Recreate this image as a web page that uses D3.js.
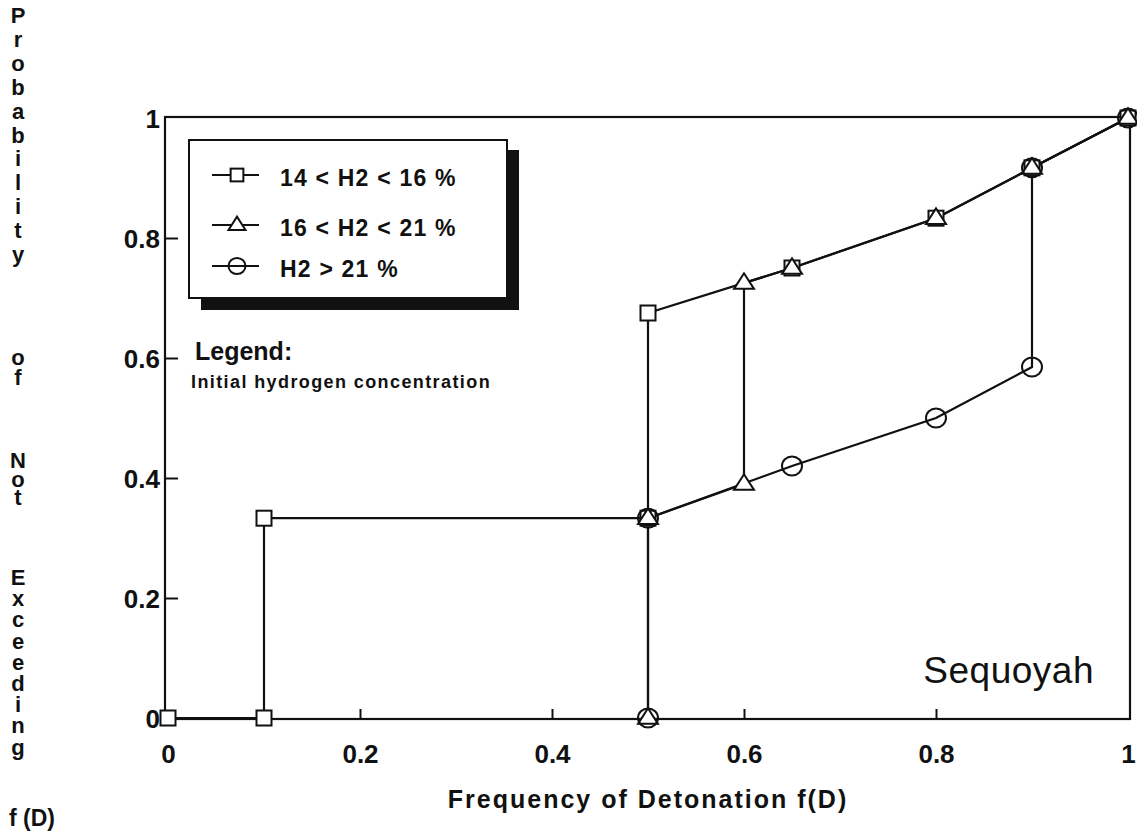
<!DOCTYPE html>
<html><head><meta charset="utf-8">
<script src="https://cdn.jsdelivr.net/npm/d3@7"></script>
<style>
html,body{margin:0;padding:0;background:#fff;}
svg{display:block;}
text{font-family:"Liberation Sans",Arial,sans-serif;fill:#111;}
.vert{writing-mode:vertical-rl;text-orientation:upright;}
</style></head>
<body>
<svg id="chart" width="1137" height="838"></svg>
<script>
// ---- data ----
const seriesNames = ["14 < H2 < 16 %", "16 < H2 < 21 %", "H2 > 21 %"];
const seriesSymbols = ["square", "triangle", "circle"];
const squareX = [0, 0.1, 0.1, 0.5, 0.5, 0.65, 0.8, 0.9, 1.0];
const squareY = [0, 0, 0.333, 0.333, 0.675, 0.75, 0.833, 0.917, 1.0];
const triangleX = [0.5, 0.5, 0.6, 0.6, 0.65, 0.8, 0.9, 1.0];
const triangleY = [0, 0.333, 0.39, 0.725, 0.75, 0.833, 0.917, 1.0];
const circleX = [0.5, 0.5, 0.65, 0.8, 0.9, 0.9, 1.0];
const circleY = [0, 0.333, 0.42, 0.5, 0.585, 0.917, 1.0];
const xTickLabels = [0, 0.2, 0.4, 0.6, 0.8, 1];
const yTickLabels = [0, 0.2, 0.4, 0.6, 0.8, 1];
const xTitle = "Frequency of Detonation f(D)";
const yTitleWords = ["Probability", "of", "Not", "Exceeding"];
const yTitleTail = "f (D)";
const legendTitle = "Legend:";
const legendSubtitle = "Initial hydrogen concentration";
const plantName = "Sequoyah";

// ---- layout ----
const svg = d3.select("#chart");
const x = d3.scaleLinear().domain([0, 1]).range([168, 1128]);
const y = d3.scaleLinear().domain([0, 1]).range([718, 118]);
const frame = {x0: 165, x1: 1130, y0: 117, y1: 719};

// frame
svg.append("rect")
  .attr("x", frame.x0).attr("y", frame.y0)
  .attr("width", frame.x1 - frame.x0).attr("height", frame.y1 - frame.y0)
  .attr("fill", "none").attr("stroke", "#111").attr("stroke-width", 2.2);

// inward ticks
const xTickAxis = d3.axisBottom(x).tickValues(xTickLabels.filter(d => d > 0 && d < 1))
  .tickSize(-10).tickFormat("");
const gxt = svg.append("g").attr("transform", `translate(0,${frame.y1})`).call(xTickAxis);
gxt.select(".domain").remove();
gxt.selectAll("line").attr("stroke", "#111").attr("stroke-width", 2);

const yTickAxis = d3.axisLeft(y).tickValues(yTickLabels.filter(d => d > 0 && d < 1))
  .tickSize(-13).tickFormat("");
const gyt = svg.append("g").attr("transform", `translate(${frame.x0},0)`).call(yTickAxis);
gyt.select(".domain").remove();
gyt.selectAll("line").attr("stroke", "#111").attr("stroke-width", 2);

// tick labels
const xLab = d3.axisBottom(x).tickValues(xTickLabels).tickSize(0).tickPadding(0)
  .tickFormat(d => d3.format("")(d));
const gxl = svg.append("g").attr("transform", `translate(0,763)`).call(xLab);
gxl.select(".domain").remove();
gxl.selectAll("text").attr("dy", 0).attr("y", 0)
  .style("font-size", "26px").style("font-weight", "bold")
  .style("font-family", '"Liberation Sans",Arial,sans-serif').attr("fill", "#111");

const yLab = d3.axisLeft(y).tickValues(yTickLabels).tickSize(0).tickPadding(0)
  .tickFormat(d => d3.format("")(d));
const gyl = svg.append("g").attr("transform", `translate(160,0)`).call(yLab);
gyl.select(".domain").remove();
gyl.selectAll("text").attr("dy", "0.36em").attr("x", 0)
  .style("font-size", "26px").style("font-weight", "bold")
  .style("font-family", '"Liberation Sans",Arial,sans-serif').attr("fill", "#111");

// axis titles
svg.append("text").attr("x", 648).attr("y", 808).attr("text-anchor", "middle")
  .style("font-size", "25px").style("font-weight", "bold").style("letter-spacing", "2px")
  .text(xTitle);

// vertical stacked y title (one upright vertical text per word)
const yWordTops = [3, 345, 448, 565];
const yWordSpacing = ["-1.1px", "-4.6px", "-6.5px", "-3.8px"];
yTitleWords.forEach((w, i) => {
  svg.append("text").attr("class", "vert")
    .attr("x", 18).attr("y", yWordTops[i])
    .style("font-size", "22px").style("font-weight", "bold")
    .style("letter-spacing", yWordSpacing[i])
    .text(w);
});
svg.append("text").attr("x", 9).attr("y", 826)
  .style("font-size", "23px").style("font-weight", "bold").text(yTitleTail);

// ---- series ----
const series = [
  {xs: squareX, ys: squareY, sym: "square"},
  {xs: triangleX, ys: triangleY, sym: "triangle"},
  {xs: circleX, ys: circleY, sym: "circle"}
];
const line = d3.line().x(d => x(d[0])).y(d => y(d[1]));

function drawMarker(g, sym, cx, cy, scale) {
  const s = scale || 1;
  if (sym === "square") {
    g.append("rect").attr("x", cx - 7.5 * s).attr("y", cy - 7.5 * s)
      .attr("width", 15 * s).attr("height", 15 * s)
      .attr("fill", "#fff").attr("stroke", "#111").attr("stroke-width", 2);
  } else if (sym === "triangle") {
    const w = 10 * s, h = 13 * s;
    g.append("path")
      .attr("d", `M${cx - w},${cy + h * 0.45} L${cx},${cy - h * 0.75} L${cx + w},${cy + h * 0.45} Z`)
      .attr("fill", "#fff").attr("stroke", "#111").attr("stroke-width", 2);
  } else {
    g.append("ellipse").attr("cx", cx).attr("cy", cy).attr("rx", 10 * s).attr("ry", 9.5 * s)
      .attr("fill", "none").attr("stroke", "#111").attr("stroke-width", 2);
  }
}

series.forEach(sr => {
  const pts = sr.xs.map((v, i) => [v, sr.ys[i]]);
  svg.append("path").datum(pts).attr("d", line)
    .attr("fill", "none").attr("stroke", "#111").attr("stroke-width", 2.2);
});
series.forEach(sr => {
  const g = svg.append("g");
  sr.xs.forEach((v, i) => {
    if (sr.sym === "square") drawMarker(g, sr.sym, x(v), y(sr.ys[i]));
  });
});
series.forEach(sr => {
  const g = svg.append("g");
  sr.xs.forEach((v, i) => {
    if (sr.sym !== "square") drawMarker(g, sr.sym, x(v), y(sr.ys[i]));
  });
});

// ---- legend box ----
const lg = {x0: 189, y0: 140, x1: 507, y1: 298};
svg.append("rect").attr("x", lg.x0 + 12).attr("y", lg.y0 + 10)
  .attr("width", lg.x1 - lg.x0).attr("height", lg.y1 - lg.y0 + 2).attr("fill", "#111");
svg.append("rect").attr("x", lg.x0).attr("y", lg.y0)
  .attr("width", lg.x1 - lg.x0).attr("height", lg.y1 - lg.y0)
  .attr("fill", "#fff").attr("stroke", "#111").attr("stroke-width", 2);
const rowY = [175, 225, 266];
seriesNames.forEach((name, i) => {
  const g = svg.append("g");
  g.append("line").attr("x1", 212).attr("x2", 259).attr("y1", rowY[i]).attr("y2", rowY[i])
    .attr("stroke", "#111").attr("stroke-width", 2.2);
  drawMarker(g, seriesSymbols[i], 237, rowY[i], 0.85);
  g.append("text").attr("x", 280).attr("y", rowY[i] + 3).attr("dy", "0.35em")
    .style("font-size", "23px").style("font-weight", "bold").style("letter-spacing", "1.2px")
    .text(name);
});

svg.append("text").attr("x", 195).attr("y", 360)
  .style("font-size", "25px").style("font-weight", "bold").text(legendTitle);
svg.append("text").attr("x", 191).attr("y", 388)
  .style("font-size", "18px").style("font-weight", "bold").style("letter-spacing", "1.4px")
  .text(legendSubtitle);

svg.append("text").attr("x", 1094).attr("y", 683).attr("text-anchor", "end")
  .style("font-size", "37px").style("letter-spacing", "0.5px").text(plantName);
</script>
</body></html>
